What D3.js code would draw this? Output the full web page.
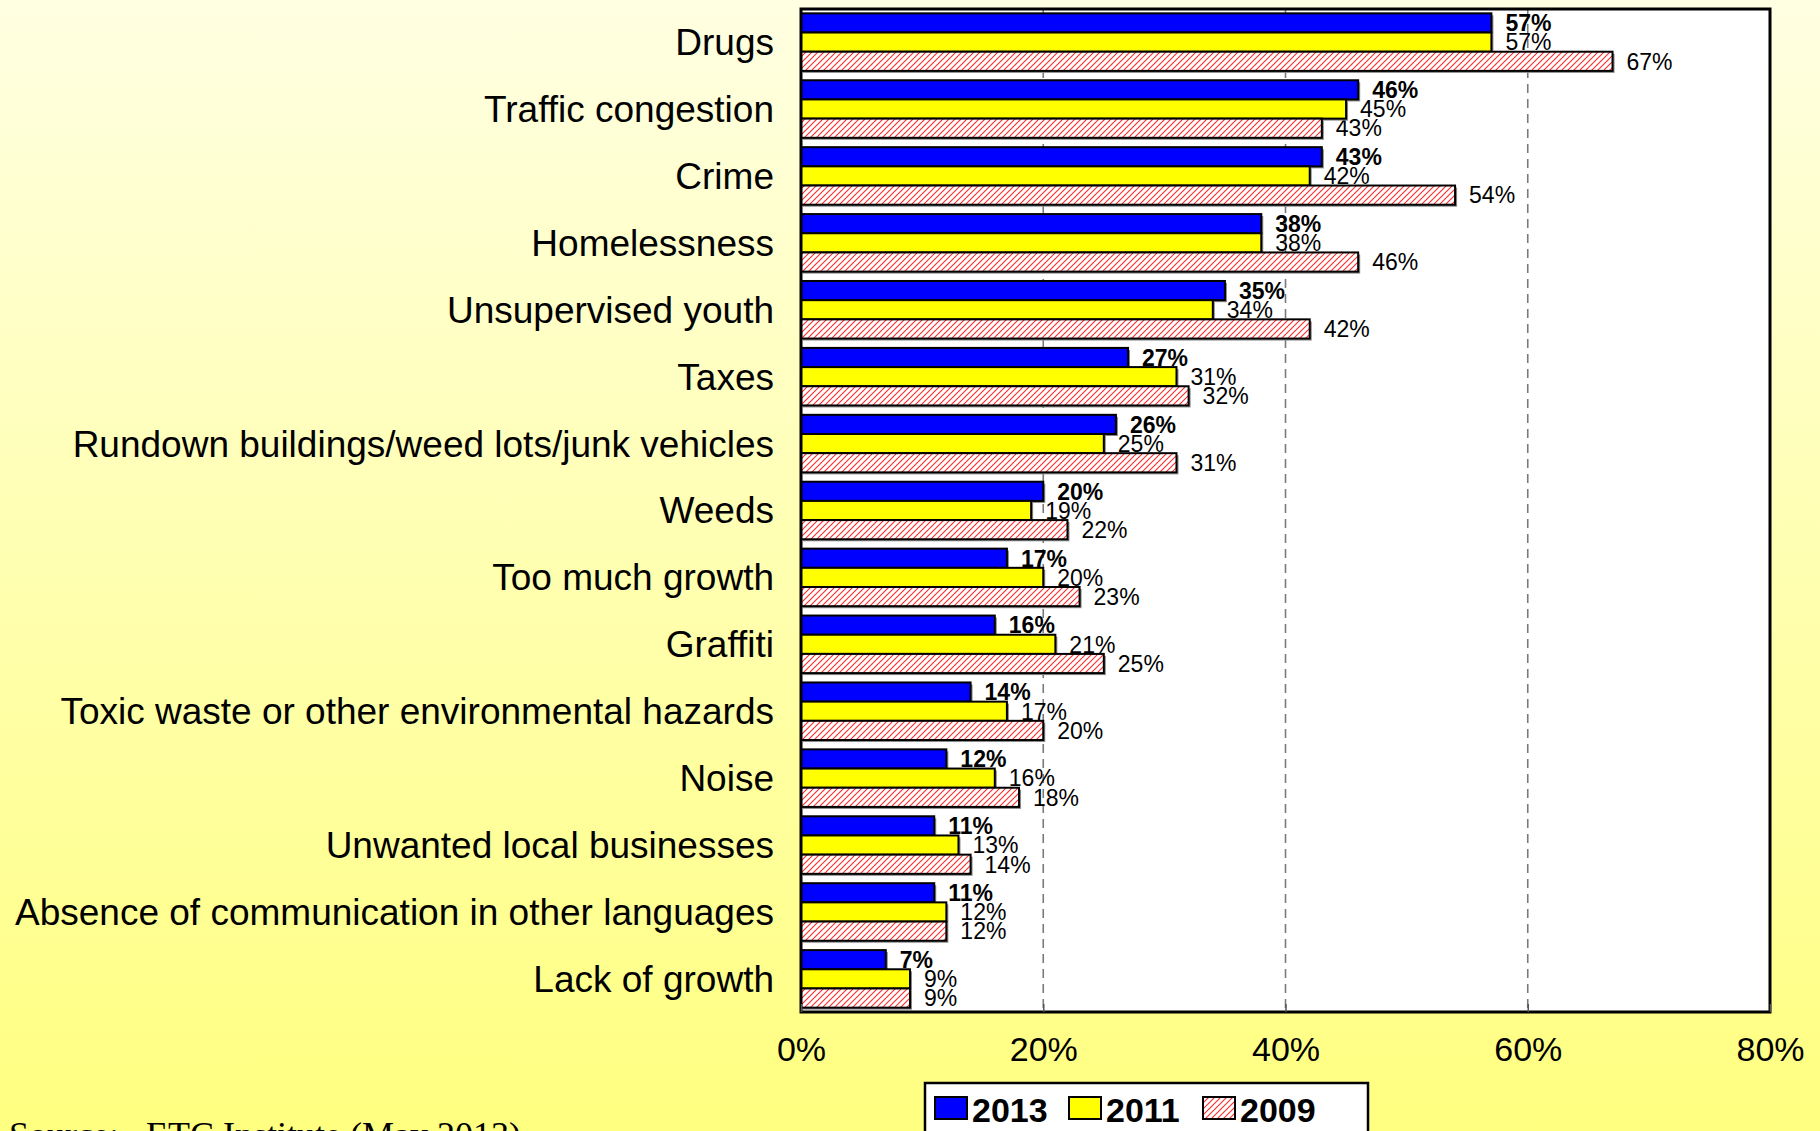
<!DOCTYPE html>
<html>
<head>
<meta charset="utf-8">
<script src="https://cdn.jsdelivr.net/npm/d3@7"></script>
<style>
  html, body { margin: 0; padding: 0; }
  body { width: 1820px; height: 1131px; overflow: hidden; }
  svg { display: block; font-family: "Liberation Sans", Arial, Helvetica, sans-serif; }
</style>
</head>
<body>
<svg id="chart" width="1820" height="1131"></svg>
<script>
// Neighbourhood concerns, share of respondents by survey year
const categories = [
  "Drugs",
  "Traffic congestion",
  "Crime",
  "Homelessness",
  "Unsupervised youth",
  "Taxes",
  "Rundown buildings/weed lots/junk vehicles",
  "Weeds",
  "Too much growth",
  "Graffiti",
  "Toxic waste or other environmental hazards",
  "Noise",
  "Unwanted local businesses",
  "Absence of communication in other languages",
  "Lack of growth"
];
const seriesNames = ["2013", "2011", "2009"];
const values2013 = [57, 46, 43, 38, 35, 27, 26, 20, 17, 16, 14, 12, 11, 11, 7];
const values2011 = [57, 45, 42, 38, 34, 31, 25, 19, 20, 21, 17, 16, 13, 12, 9];
const values2009 = [67, 43, 54, 46, 42, 32, 31, 22, 23, 25, 20, 18, 14, 12, 9];
const tickValues = [0, 20, 40, 60, 80];
const sourceNote = "Source:\u00a0\u00a0 ETC Institute (May 2013)";

const seriesValues = [values2013, values2011, values2009];

const svg = d3.select("#chart");
const W = 1820, H = 1131;
const plot = { left: 801, right: 1770, top: 9, bottom: 1012 };

const defs = svg.append("defs");

// page background: pale cream fading into yellow
const bg = defs.append("linearGradient")
  .attr("id", "bgGrad").attr("x1", 0).attr("y1", 0).attr("x2", 0).attr("y2", 1);
bg.append("stop").attr("offset", "0%").attr("stop-color", "#ffffe2");
bg.append("stop").attr("offset", "100%").attr("stop-color", "#ffff80");

// red diagonal hatching for the 2009 series
const hatch = defs.append("pattern")
  .attr("id", "hatch").attr("patternUnits", "userSpaceOnUse")
  .attr("width", 6).attr("height", 6);
hatch.append("rect").attr("width", 6).attr("height", 6).attr("fill", "#ffffff");
hatch.append("path")
  .attr("d", "M-1,1 L1,-1 M0,6 L6,0 M5,7 L7,5")
  .attr("stroke", "#ff2a2a").attr("stroke-width", 1.1);

const fills = { "2013": "#0000ff", "2011": "#ffff00", "2009": "url(#hatch)" };

svg.append("rect").attr("width", W).attr("height", H).attr("fill", "url(#bgGrad)");

// scales
const x = d3.scaleLinear().domain([0, 80]).range([plot.left, plot.right]);
const y = d3.scaleBand().domain(categories)
  .range([plot.top, plot.bottom])
  .paddingInner(0.14).paddingOuter(0.065);
const ySub = d3.scaleBand().domain(seriesNames).range([0, y.bandwidth()]);

// plot area
svg.append("rect")
  .attr("x", plot.left).attr("y", plot.top)
  .attr("width", plot.right - plot.left).attr("height", plot.bottom - plot.top)
  .attr("fill", "#ffffff");

// dashed gridlines
svg.append("g").selectAll("line")
  .data(tickValues.filter(d => d > 0 && d < 80))
  .join("line")
  .attr("x1", d => x(d)).attr("x2", d => x(d))
  .attr("y1", plot.top).attr("y2", plot.bottom)
  .attr("stroke", "#7a7a7a").attr("stroke-width", 1.6)
  .attr("stroke-dasharray", "9,6");

// flat record list for the marks
const records = [];
categories.forEach((c, i) => {
  seriesNames.forEach((s, j) => {
    records.push({ category: c, series: s, value: seriesValues[j][i] });
  });
});

// value labels (drawn first so the bars sit over any overlap)
svg.append("g").selectAll("text")
  .data(records)
  .join("text")
  .attr("x", d => x(d.value) + 14)
  .attr("y", d => y(d.category) + ySub(d.series) + ySub.bandwidth() / 2)
  .attr("dy", "0.36em")
  .attr("font-size", 23)
  .attr("font-weight", d => d.series === "2013" ? "bold" : "normal")
  .attr("fill", "#000")
  .text(d => d.value + "%");

// bars with a soft drop shadow
const barG = svg.append("g");
seriesNames.forEach(s => {
  const recs = records.filter(r => r.series === s);
  barG.append("g").selectAll("rect")
    .data(recs)
    .join("rect")
    .attr("x", x(0) + 2)
    .attr("y", d => y(d.category) + ySub(d.series) + 2)
    .attr("width", d => x(d.value) - x(0))
    .attr("height", ySub.bandwidth())
    .attr("fill", "#8a8a8a");
  barG.append("g").selectAll("rect")
    .data(recs)
    .join("rect")
    .attr("x", x(0))
    .attr("y", d => y(d.category) + ySub(d.series))
    .attr("width", d => x(d.value) - x(0))
    .attr("height", ySub.bandwidth())
    .attr("fill", fills[s])
    .attr("stroke", "#000").attr("stroke-width", 2);
});

// plot border
svg.append("rect")
  .attr("x", plot.left).attr("y", plot.top)
  .attr("width", plot.right - plot.left).attr("height", plot.bottom - plot.top)
  .attr("fill", "none").attr("stroke", "#000").attr("stroke-width", 3);

// x axis
const xAxis = d3.axisBottom(x)
  .tickValues(tickValues)
  .tickFormat(d => d + "%")
  .tickSizeInner(-8).tickSizeOuter(0).tickPadding(25);
const gx = svg.append("g")
  .attr("transform", `translate(0,${plot.bottom})`)
  .call(xAxis);
gx.select(".domain").remove();
gx.selectAll(".tick line").attr("stroke", "#555").attr("stroke-width", 1.5);
gx.selectAll(".tick text")
  .attr("font-size", 34)
  .attr("font-family", "'Liberation Sans', Arial, sans-serif")
  .attr("fill", "#000");

// category labels
svg.append("g").selectAll("text")
  .data(categories)
  .join("text")
  .attr("x", 774)
  .attr("y", d => y(d) + y.bandwidth() / 2)
  .attr("dy", "0.35em")
  .attr("text-anchor", "end")
  .attr("font-size", 37)
  .attr("fill", "#000")
  .text(d => d);

// legend
const legend = svg.append("g");
legend.append("rect")
  .attr("x", 925).attr("y", 1083).attr("width", 443).attr("height", 70)
  .attr("fill", "#ffffff").attr("stroke", "#000").attr("stroke-width", 2.5);
const legendX = d3.scalePoint().domain(seriesNames).range([935, 1203]);
const items = legend.selectAll("g.item")
  .data(seriesNames)
  .join("g").attr("class", "item")
  .attr("transform", d => `translate(${legendX(d)},1097)`);
items.append("rect")
  .attr("width", 32).attr("height", 22)
  .attr("fill", d => fills[d])
  .attr("stroke", "#000").attr("stroke-width", 2);
items.append("text")
  .attr("x", 37).attr("y", 24.5)
  .attr("font-size", 34).attr("font-weight", "bold")
  .attr("fill", "#000")
  .text(d => d);

// source note
svg.append("text")
  .attr("x", 9).attr("y", 1147)
  .attr("font-family", "'Liberation Serif', 'Times New Roman', serif")
  .attr("font-size", 36)
  .attr("fill", "#000")
  .style("white-space", "pre")
  .text(sourceNote);
</script>
</body>
</html>
